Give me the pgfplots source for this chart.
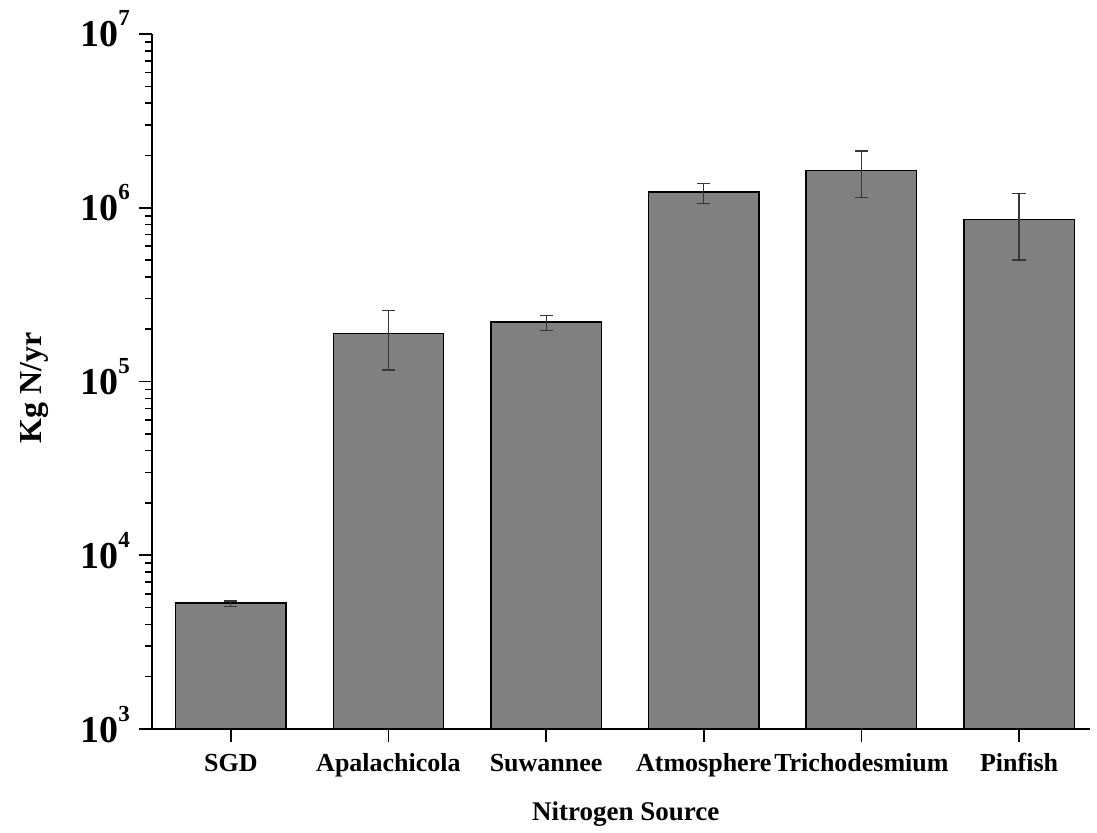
\documentclass[border=0pt]{standalone}
\usepackage{pgfplots}
\pgfplotsset{compat=1.18}
\usepackage{fontspec}
\setmainfont{Liberation Serif}
\newcommand{\tp}[1]{\fontsize{19}{19}\selectfont\bfseries 10\raisebox{10.5pt}{\fontsize{11.5}{11.5}\selectfont #1}}
\definecolor{barfill}{RGB}{128,128,128}
\definecolor{errc}{RGB}{55,55,55}
\begin{document}
\begin{tikzpicture}
\useasboundingbox (0,0) rectangle (548.5pt,416pt);
\begin{axis}[
  at={(76pt,51.5pt)}, anchor=south west,
  scale only axis, width=469pt, height=347.5pt,
  ymode=log, ymin=1e3, ymax=1e7, log origin y=infty,
  xmin=-0.5, xmax=5.45,
  axis lines=left, axis line style={-, line width=1pt},
  tick align=outside, major tick length=6.5pt, minor tick length=3.5pt,
  tick style={line width=0.8pt, black},
  xtick={0,1,2,3,4,5},
  xticklabels={SGD,Apalachicola,Suwannee,Atmosphere,Trichodesmium,Pinfish},
  xticklabel style={font=\fontsize{13}{13}\selectfont\bfseries, text height=9pt, text depth=3pt, yshift=-2pt},
  ytick={1e3,1e4,1e5,1e6,1e7},
  yticklabels={\tp{3},\tp{4},\tp{5},\tp{6},\tp{7}},
  yticklabel style={anchor=base east, yshift=-6.5pt, xshift=-1pt},
  xlabel={Nitrogen Source}, ylabel={Kg N/yr},
  xlabel style={font=\fontsize{13.5}{13.5}\selectfont\bfseries, at={(axis description cs:0.505,-0.122)}, anchor=center},
  ylabel style={font=\fontsize{16}{16}\selectfont\bfseries, at={(axis description cs:-0.1258,0.4906)}, anchor=center},
  ybar, bar width=0.70,
]
\addplot[fill=barfill, draw=black, line width=0.75pt,
  error bars/.cd, y dir=both, y explicit,
  error bar style={errc, line width=0.6pt},
  error mark options={errc, rotate=90, mark size=3.3pt, line width=0.6pt}]
coordinates {
  (0,5310) += (0,140) -= (0,250)
  (1,188400) += (0,66600) -= (0,71900)
  (2,220000) += (0,20000) -= (0,23000)
  (3,1233000) += (0,147000) -= (0,173000)
  (4,1643000) += (0,477000) -= (0,495000)
  (5,858000) += (0,352000) -= (0,358000)
};
\end{axis}
\end{tikzpicture}
\end{document}
